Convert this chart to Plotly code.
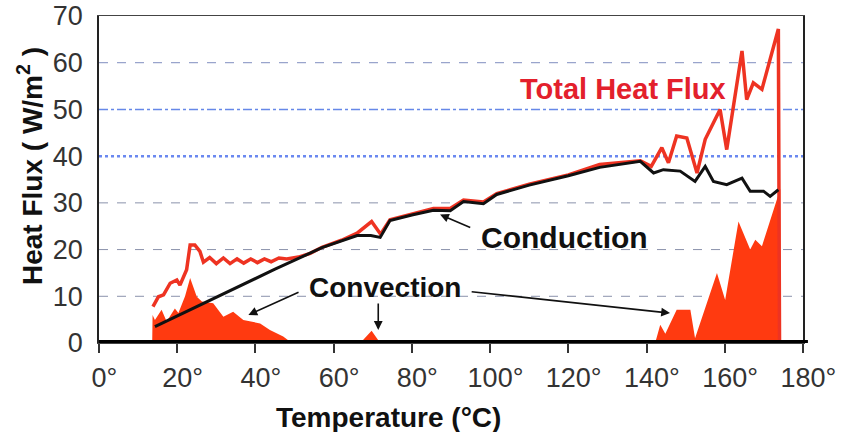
import plotly.graph_objects as go

# ---- data ----
total_t = [13.8, 15.2, 16.5, 18.2, 19.9, 20.7, 22.4, 23.3, 24.5, 25.8, 26.7, 28.3, 30.0, 31.8, 33.5,
           35.3, 37.0, 38.8, 40.5, 42.3, 44.0, 46.0, 48.0, 51.0, 54.0, 57.0, 62.0, 66.0, 69.7, 72.0,
           74.4, 80.0, 85.5, 89.8, 93.2, 98.3, 101.7, 110.0, 120.0, 128.0, 138.4, 141.2, 143.9, 145.6,
           147.7, 150.3, 152.9, 155.0, 158.8, 160.5, 164.4, 165.6, 167.3, 169.5, 173.7, 174.0]
total_v = [7.8, 9.9, 10.3, 12.8, 13.5, 12.4, 15.7, 21.0, 21.0, 19.6, 17.3, 18.3, 17.0, 18.2, 17.0,
           18.0, 17.1, 18.0, 17.2, 18.0, 17.4, 18.2, 18.0, 18.4, 19.2, 20.5, 22.0, 23.5, 26.0, 23.3,
           26.4, 27.6, 28.8, 28.8, 30.6, 30.2, 32.0, 34.0, 36.0, 38.2, 39.0, 37.8, 41.8, 38.6,
           44.3, 43.9, 36.4, 43.6, 50.0, 41.4, 62.5, 52.1, 55.7, 54.3, 67.2, 0.0]

cond_t = [14.3, 30.0, 45.0, 57.0, 62.0, 66.0, 69.5, 71.9, 74.4, 80.0, 85.5, 89.8, 93.2, 98.3, 101.7,
          110.0, 120.0, 128.0, 138.4, 141.8, 144.3, 148.6, 152.4, 155.0, 157.1, 160.5, 164.4, 166.5,
          169.9, 171.6, 173.7]
cond_v = [3.5, 9.8, 15.8, 20.4, 21.8, 23.0, 23.0, 22.6, 26.2, 27.4, 28.4, 28.3, 30.3, 29.8, 31.8,
          33.8, 35.8, 37.6, 38.9, 36.4, 37.1, 36.8, 34.6, 37.8, 34.6, 33.9, 35.3, 32.5,
          32.5, 31.4, 32.8]

conv_t = [13.6, 13.7, 14.3, 16.0, 17.3, 19.4, 20.3, 22.0, 23.3, 25.0, 26.3, 29.2, 31.8, 34.3, 36.9,
          38.6, 41.2, 43.7, 47.1, 48.8, 49.5,
          66.8, 69.7, 71.9,
          142.2, 143.5, 144.8, 147.7, 151.2, 152.4, 158.0, 160.1, 163.5, 166.5, 167.8, 169.5, 174.2, 174.3]
conv_v = [0.0, 6.0, 4.9, 7.1, 4.6, 7.4, 6.4, 10.0, 13.9, 9.9, 8.9, 8.5, 5.6, 6.7, 4.9,
          4.6, 4.2, 2.8, 1.4, 0.3, 0.0,
          0.0, 2.6, 0.0,
          0.0, 3.9, 2.0, 7.1, 7.1, 1.0, 15.0, 9.2, 26.0, 20.0, 22.1, 20.7, 33.0, 0.0]

x_ticks = [0, 20, 40, 60, 80, 100, 120, 140, 160, 180]
y_ticks = [0, 10, 20, 30, 40, 50, 60, 70]

FONT = "Liberation Sans, Arial, sans-serif"

fig = go.Figure()
fig.add_trace(go.Scatter(x=conv_t, y=conv_v, mode="lines", fill="tozeroy",
                         fillcolor="#ff3a10", line=dict(width=0, color="#ff3a10"),
                         hoverinfo="skip", showlegend=False))
fig.add_trace(go.Scatter(x=total_t, y=total_v, mode="lines",
                         line=dict(color="#ee3322", width=3.5), showlegend=False))
fig.add_trace(go.Scatter(x=cond_t, y=cond_v, mode="lines",
                         line=dict(color="#111111", width=3), showlegend=False))

# gridlines with individual styles
grid_styles = {10: ("#8a92ab", "dash", 1), 20: ("#8a92ab", "dash", 1), 30: ("#8a92ab", "dash", 1),
               40: ("#6a88f0", "dot", 2.5), 50: ("#6688e8", "dashdot", 1.5), 60: ("#7f8dbf", "dash", 1)}
shapes = []
for yv, (c, d, w) in grid_styles.items():
    shapes.append(dict(type="line", xref="paper", yref="y", x0=0, x1=1, y0=yv, y1=yv,
                       line=dict(color=c, dash=d, width=w), layer="below"))
# thick black bar at zero
shapes.append(dict(type="line", xref="paper", yref="y", x0=0, x1=1.007, y0=0, y1=0,
                   line=dict(color="#000000", width=6), layer="above"))

annos = []
annos.append(dict(x=134.0, y=54.3, xref="x", yref="y", text="<b>Total Heat Flux</b>",
                  showarrow=False, font=dict(family=FONT, size=29, color="#e3202c")))
annos.append(dict(x=118.9, y=22.5, xref="x", yref="y", text="<b>Conduction</b>",
                  showarrow=False, font=dict(family=FONT, size=30, color="#111111")))
annos.append(dict(x=73.1, y=11.8, xref="x", yref="y", text="<b>Convection</b>",
                  showarrow=False, font=dict(family=FONT, size=28, color="#111111")))
arrows = [((87.2, 27.5), (95.3, 24.6)),
          ((38.2, 6.0), (51.4, 11.0)),
          ((71.4, 2.8), (71.4, 8.8)),
          ((146.0, 6.4), (94.9, 11.0))]
for (hx, hy), (tx, ty) in arrows:
    annos.append(dict(x=hx, y=hy, ax=tx, ay=ty, xref="x", yref="y", axref="x", ayref="y",
                      text="", showarrow=True, arrowhead=2, arrowsize=1.1, arrowwidth=1.6,
                      arrowcolor="#111111"))
annos.append(dict(x=(388 - 99) / 704, y=(343 - 417) / 327, xref="paper", yref="paper",
                  xanchor="center", yanchor="middle",
                  text="<b>Temperature (°C)</b>", showarrow=False,
                  font=dict(family=FONT, size=28, color="#111111")))
annos.append(dict(x=(30 - 99) / 704, y=(343 - 166) / 327, xref="paper", yref="paper",
                  xanchor="center", yanchor="middle",
                  text="<b>Heat Flux ( W/m<sup>2</sup> )</b>", showarrow=False, textangle=-90,
                  font=dict(family=FONT, size=28, color="#111111")))

x_text = ["<span style='color:rgba(0,0,0,0)'>°</span>%d°" % t for t in x_ticks]

fig.update_layout(
    width=841, height=432,
    margin=dict(l=99, r=38, t=16, b=89),
    paper_bgcolor="white", plot_bgcolor="white",
    shapes=shapes, annotations=annos,
    xaxis=dict(range=[0, 180], tickvals=x_ticks, ticktext=x_text, showgrid=False, zeroline=False,
               automargin=False,
               showline=True, linecolor="#444444", linewidth=1, mirror=True,
               ticks="outside", ticklen=9, tickwidth=1.5, tickcolor="#333333",
               ticklabelstandoff=2,
               tickfont=dict(family=FONT, size=27, color="#333333")),
    yaxis=dict(range=[0, 70], tickvals=y_ticks, showgrid=False, zeroline=False,
               automargin=False,
               showline=True, linecolor="#222222", linewidth=1.5, mirror=True,
               ticks="", ticklabelstandoff=9,
               tickfont=dict(family=FONT, size=27, color="#333333")),
)

fig.write_html("out.html")
